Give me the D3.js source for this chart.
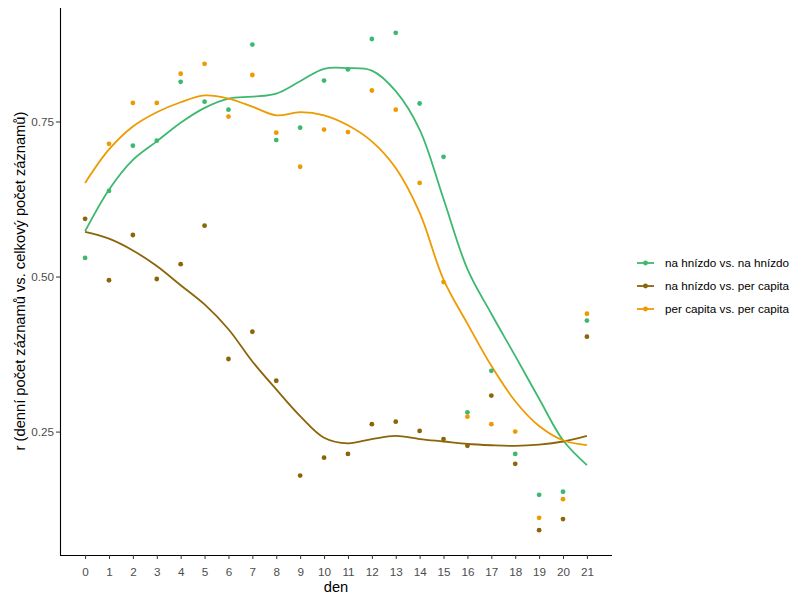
<!DOCTYPE html>
<html>
<head>
<meta charset="utf-8">
<script src="https://cdn.jsdelivr.net/npm/d3@7"></script>
<style>
  body { margin: 0; background: #fff; }
  text { font-family: "Liberation Sans", Arial, sans-serif; }
</style>
</head>
<body>
<svg id="chart" width="798" height="596"></svg>
<script>
// ---- data ----
const days = d3.range(0, 22);
const seriesNames = ["na hnízdo vs. na hnízdo", "na hnízdo vs. per capita", "per capita vs. per capita"];
const seriesColors = ["#3DB96F", "#8B6508", "#EE9A00"];

// observed points
const greenPoints = [0.530, 0.638, 0.711, 0.719, 0.814, 0.782, 0.769, 0.874, 0.720, 0.740, 0.816,
                     0.834, 0.883, 0.893, 0.779, 0.693, 0.281, 0.348, 0.214, 0.148, 0.153, 0.429];
const brownPoints = [0.593, 0.494, 0.567, 0.496, 0.520, 0.582, 0.367, 0.411, 0.332, 0.179, 0.208,
                     0.214, 0.262, 0.266, 0.251, 0.238, 0.227, 0.308, 0.198, 0.091, 0.109, 0.403];
const orangePoints = [null, 0.714, 0.780, 0.780, 0.827, 0.843, 0.758, 0.825, 0.732, 0.677, 0.737,
                      0.733, 0.800, 0.769, 0.651, 0.491, 0.274, 0.262, 0.250, 0.111, 0.141, 0.440];

// smoothed curves
const greenSmooth = [0.573, 0.640, 0.688, 0.718, 0.748, 0.772, 0.787, 0.790, 0.795, 0.815, 0.835,
                     0.836, 0.832, 0.799, 0.737, 0.625, 0.512, 0.440, 0.372, 0.303, 0.236, 0.196];
const brownSmooth = [0.572, 0.561, 0.542, 0.517, 0.486, 0.455, 0.415, 0.363, 0.318, 0.275, 0.240,
                     0.231, 0.238, 0.243, 0.238, 0.234, 0.230, 0.228, 0.227, 0.229, 0.234, 0.243];
const orangeSmooth = [0.651, 0.705, 0.742, 0.765, 0.781, 0.792, 0.787, 0.774, 0.760, 0.765, 0.760,
                      0.744, 0.718, 0.675, 0.603, 0.495, 0.424, 0.356, 0.299, 0.259, 0.236, 0.228];

const xTicks = days;
const yTicks = [0.25, 0.50, 0.75];

const series = [
  { name: seriesNames[0], color: seriesColors[0], pts: greenPoints, smooth: greenSmooth },
  { name: seriesNames[1], color: seriesColors[1], pts: brownPoints, smooth: brownSmooth },
  { name: seriesNames[2], color: seriesColors[2], pts: orangePoints, smooth: orangeSmooth }
];

// ---- layout ----
const svg = d3.select("#chart");
svg.append("rect").attr("width", 798).attr("height", 596).attr("fill", "#fff");

const x = d3.scaleLinear().domain([-1.05, 22.05]).range([60, 612]);
const y = d3.scaleLinear().domain([0.051, 0.933]).range([555, 8]);

// smooth lines
const line = d3.line()
  .x((d, i) => x(days[i]))
  .y(d => y(d))
  .curve(d3.curveCatmullRom.alpha(0.5));

const g = svg.append("g");
series.forEach(s => {
  g.append("path")
    .attr("d", line(s.smooth))
    .attr("fill", "none")
    .attr("stroke", s.color)
    .attr("stroke-width", 1.8);
});

// points
series.forEach(s => {
  g.selectAll(null)
    .data(days.filter(d => s.pts[d] !== null))
    .enter().append("circle")
    .attr("cx", d => x(d))
    .attr("cy", d => y(s.pts[d]))
    .attr("r", 2.4)
    .attr("fill", s.color);
});

// axes
const xAxis = d3.axisBottom(x).tickValues(xTicks).tickFormat(d3.format("d")).tickSize(4).tickSizeOuter(0);
const yAxis = d3.axisLeft(y).tickValues(yTicks).tickFormat(d3.format(".2f")).tickSize(4).tickSizeOuter(0);

const xg = svg.append("g").attr("transform", "translate(0,555)").call(xAxis);
const yg = svg.append("g").attr("transform", "translate(60,0)").call(yAxis);
[xg, yg].forEach(a => {
  a.select(".domain").attr("stroke", "#000").attr("stroke-width", 1.1);
  a.selectAll(".tick line").attr("stroke", "#333");
  a.selectAll(".tick text").attr("fill", "#4D4D4D").style("font-size", "11.7px")
    .style("font-family", "'Liberation Sans', Arial, sans-serif");
});
xg.select(".domain").attr("d", "M60,0.5H612");
yg.select(".domain").attr("d", "M0.5,8V555");
xg.selectAll(".tick text").attr("dy", "0").attr("y", 21);
yg.selectAll(".tick text").attr("x", -6).attr("dy", "0.35em");

// axis titles
svg.append("text")
  .attr("x", 336).attr("y", 592)
  .attr("text-anchor", "middle")
  .style("font-size", "14.7px")
  .attr("fill", "#000")
  .text("den");

svg.append("text")
  .attr("transform", "translate(25,281) rotate(-90)")
  .attr("text-anchor", "middle")
  .style("font-size", "14.7px")
  .attr("fill", "#000")
  .text("r (denní počet záznamů vs. celkový počet záznamů)");

// legend
const legend = svg.append("g");
const legendY = [263, 286, 309];
series.forEach((s, i) => {
  const row = legend.append("g").attr("transform", `translate(0,${legendY[i]})`);
  row.append("line").attr("x1", 637).attr("x2", 654).attr("y1", 0).attr("y2", 0)
    .attr("stroke", s.color).attr("stroke-width", 1.8);
  row.append("circle").attr("cx", 645.5).attr("cy", 0).attr("r", 2.4).attr("fill", s.color);
  row.append("text").attr("x", 665).attr("y", 0).attr("dy", "0.35em")
    .style("font-size", "11.7px").attr("fill", "#000").text(s.name);
});
</script>
</body>
</html>
